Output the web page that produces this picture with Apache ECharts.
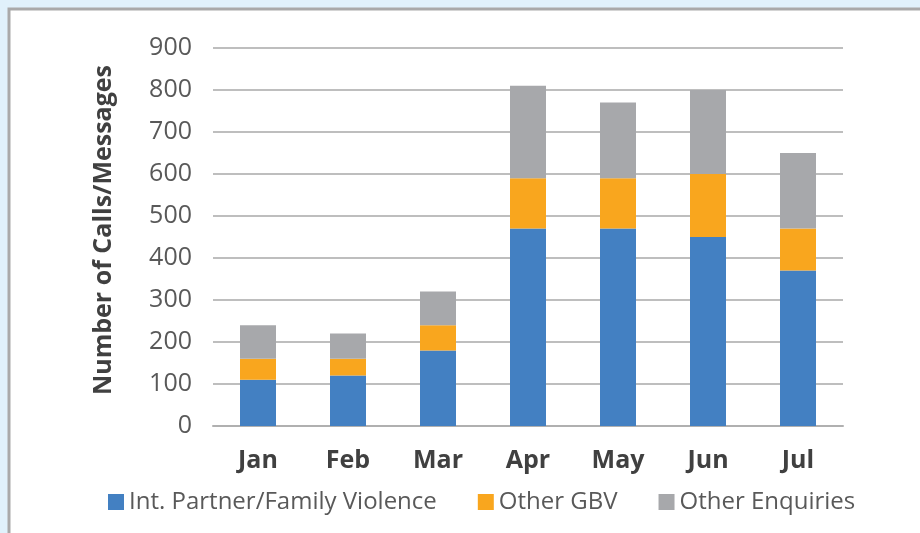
<!DOCTYPE html>
<html>
<head>
<meta charset="utf-8">
<script src="https://cdn.jsdelivr.net/npm/echarts@6/dist/echarts.min.js"></script>
<style>
  html, body { margin: 0; padding: 0; background: #e0f1fb; }
  #chart { width: 920px; height: 533px; }
</style>
</head>
<body>
<div id="chart"></div>
<script>
// Monthly calls/messages by enquiry type
const months = ['Jan', 'Feb', 'Mar', 'Apr', 'May', 'Jun', 'Jul'];
const partnerFamilyViolence = [110, 120, 180, 470, 470, 450, 370];
const otherGBV = [50, 40, 60, 120, 120, 150, 100];
const otherEnquiries = [80, 60, 80, 220, 180, 200, 180];
const yTicks = [0, 100, 200, 300, 400, 500, 600, 700, 800, 900];

const FONT = '"Open Sans", Lato, sans-serif';
const chart = echarts.init(document.getElementById('chart'), null, { renderer: 'canvas' });

function barSeries(name, data, color) {
  return {
    name: name,
    type: 'bar',
    stack: 'total',
    barWidth: '40%',
    data: data,
    itemStyle: { color: color },
    emphasis: { disabled: true }
  };
}

chart.setOption({
  backgroundColor: '#e0f1fb',
  animation: false,
  textStyle: { fontFamily: FONT },
  graphic: [{
    type: 'rect',
    z: -10,
    silent: true,
    shape: { x: 9, y: 9, width: 1000, height: 1000 },
    style: { fill: '#ffffff', stroke: '#a9a9a9', lineWidth: 3 }
  }],
  grid: { left: 213, right: 77, top: 48, bottom: 107, containLabel: false },
  legend: {
    top: 485,
    left: 103,
    itemWidth: 16,
    itemHeight: 16,
    itemGap: 41,
    icon: 'rect',
    textStyle: { fontSize: 24, color: '#595959', fontFamily: FONT },
    data: ['Int. Partner/Family Violence', 'Other GBV', 'Other Enquiries']
  },
  xAxis: {
    type: 'category',
    data: months,
    axisLine: { lineStyle: { color: '#b0b0b0', width: 2 } },
    axisTick: { show: false },
    axisLabel: { fontSize: 25, fontWeight: 'bold', color: '#404040', margin: 22, fontFamily: FONT }
  },
  yAxis: {
    type: 'value',
    min: yTicks[0],
    max: yTicks[yTicks.length - 1],
    interval: 100,
    name: 'Number of Calls/Messages',
    nameLocation: 'middle',
    nameGap: 97,
    nameRotate: 90,
    nameTextStyle: { fontSize: 25, fontWeight: 'bold', color: '#404040', fontFamily: FONT, padding: [0, 0, 0, 14] },
    axisLine: { show: false },
    axisTick: { show: false },
    axisLabel: { fontSize: 25, color: '#595959', margin: 21, fontFamily: FONT },
    splitLine: { lineStyle: { color: '#a9a9a9', width: 1.5 } }
  },
  series: [
    barSeries('Int. Partner/Family Violence', partnerFamilyViolence, '#4380c2'),
    barSeries('Other GBV', otherGBV, '#f9a61e'),
    barSeries('Other Enquiries', otherEnquiries, '#a7a8ab')
  ]
});
</script>
</body>
</html>
